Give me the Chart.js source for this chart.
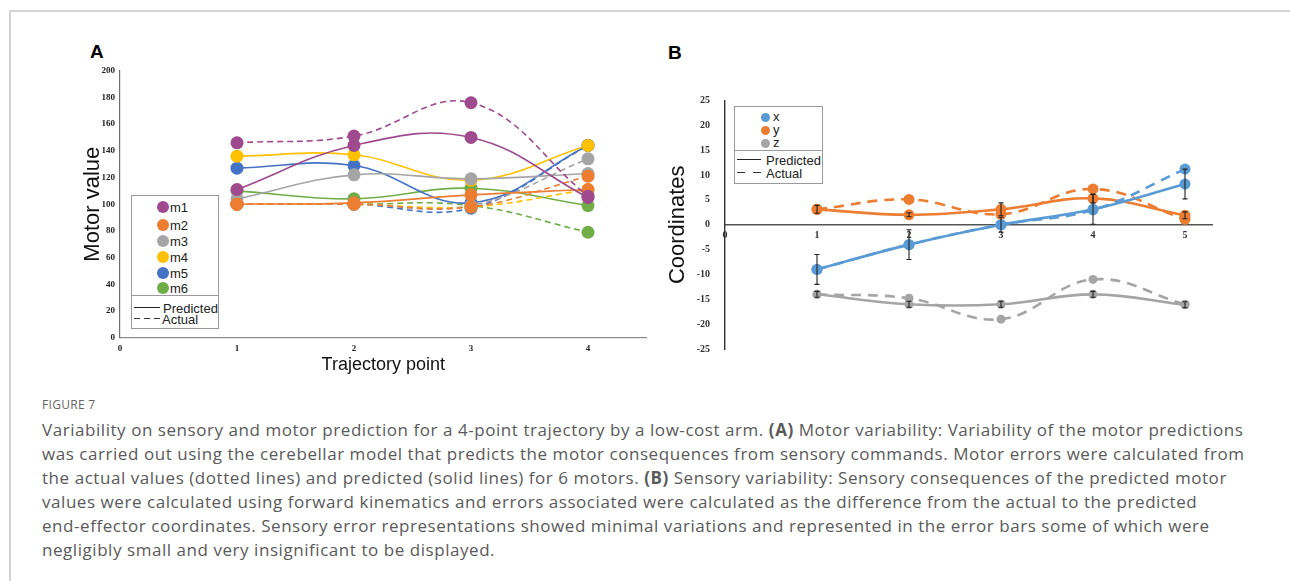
<!DOCTYPE html>
<html>
<head>
<meta charset="utf-8">
<script src="https://cdn.jsdelivr.net/npm/chart.js@4.4.1/dist/chart.umd.min.js"></script>
<style>
  html,body{margin:0;padding:0;background:#fff;}
  body{width:1290px;height:581px;position:relative;overflow:hidden;font-family:"Liberation Sans",Arial,sans-serif;}
  .frame{position:absolute;left:9px;top:10px;width:1290px;height:600px;border-top:2px solid #d4d4d4;border-left:2px solid #d4d4d4;}
  .plabel{position:absolute;font:bold 19px "Liberation Sans",Arial,sans-serif;color:#000;}
  canvas{position:absolute;}
  .leg{position:absolute;background:#fff;border:1px solid #9a9a9a;box-sizing:border-box;}
  .leg .dot{position:absolute;border-radius:50%;}
  .leg .txt{position:absolute;font:13px "Liberation Sans",Arial,sans-serif;color:#222;line-height:1;transform:translateY(-50%);white-space:nowrap;}
  .leg .sep{position:absolute;left:0;right:0;border-top:1px solid #9a9a9a;}
  .leg .ln{position:absolute;height:1.5px;}
  .cap{position:absolute;left:42px;font-family:"Open Sans","Noto Sans",sans-serif;color:#5a5a5a;white-space:nowrap;}
  .figt{top:396px;font-size:12px;letter-spacing:0.3px;color:#666;}
  .capline{font-size:17px;line-height:24px;letter-spacing:0.55px;}
</style>
</head>
<body>
<div class="frame"></div>
<div class="plabel" style="left:90px;top:41px;">A</div>
<div class="plabel" style="left:668px;top:42px;">B</div>
<canvas id="cA" width="580" height="340" style="left:80px;top:40px;width:580px;height:340px;"></canvas>
<canvas id="cB" width="565" height="310" style="left:665px;top:60px;width:565px;height:310px;"></canvas>
<div id="legA" class="leg" style="left:131px;top:195px;width:88px;height:134px;"></div>
<div id="legB" class="leg" style="left:734px;top:106px;width:89px;height:78px;"></div>
<div class="cap figt">FIGURE 7</div>
<div class="cap capline" style="top:418px;">
Variability on sensory and motor prediction for a 4-point trajectory by a low-cost arm. <b>(A)</b> Motor variability: Variability of the motor predictions<br>
was carried out using the cerebellar model that predicts the motor consequences from sensory commands. Motor errors were calculated from<br>
the actual values (dotted lines) and predicted (solid lines) for 6 motors. <b>(B)</b> Sensory variability: Sensory consequences of the predicted motor<br>
values were calculated using forward kinematics and errors associated were calculated as the difference from the actual to the predicted<br>
end-effector coordinates. Sensory error representations showed minimal variations and represented in the error bars some of which were<br>
negligibly small and very insignificant to be displayed.
</div>
<script>
// ---------- Panel A data ----------
const trajA = [1, 2, 3, 4];
const motorNames = ['m1', 'm2', 'm3', 'm4', 'm5', 'm6'];
const motorColors = ['#9F4A8E', '#ED7D31', '#A5A5A5', '#FFC000', '#4472C4', '#70AD47'];
const m1Pred = [111, 144, 150, 105];
const m1Act  = [146, 151, 176, 106];
const m2Pred = [100, 101, 107, 111];
const m2Act  = [100, 100, 98, 121];
const m3Pred = [104, 122, 119, 123];
const m3Act  = [100, 100, 99, 134];
const m4Pred = [136, 137, 118, 144];
const m4Act  = [100, 100, 98, 111];
const m5Pred = [127, 129, 101, 144];
const m5Act  = [100, 100, 97, 144];
const m6Pred = [110, 104, 112, 99];
const m6Act  = [100, 100, 99, 79];
const yTicksA = [0, 20, 40, 60, 80, 100, 120, 140, 160, 180, 200];
const xTicksA = [0, 1, 2, 3, 4];

// ---------- Panel B data ----------
const trajB = [1, 2, 3, 4, 5];
const coordNames = ['x', 'y', 'z'];
const coordColors = ['#5B9BD5', '#ED7D31', '#A5A5A5'];
const xPred = [-9.0, -4.0, 0.0, 3.1, 8.2];
const xAct  = [-9.0, -4.0, 0.0, 3.0, 11.2];
const xErr  = [3.0, 3.0, 1.5, 3.0, 3.0];
const yPred = [3.1, 2.0, 3.1, 5.3, 1.9];
const yAct  = [3.1, 5.1, 2.1, 7.2, 1.1];
const yErr  = [0.8, 0.4, 1.3, 0.9, 0.7];
const zPred = [-14.0, -16.0, -16.0, -14.0, -16.1];
const zAct  = [-14.0, -14.8, -19.0, -11.0, -16.0];
const zErr  = [0.6, 0.6, 0.6, 0.6, 0.6];
const yTicksB = [-25, -20, -15, -10, -5, 0, 5, 10, 15, 20, 25];
const xTicksB = [0, 1, 2, 3, 4, 5];

const pts = (xs, ys) => xs.map((x, i) => ({x: x, y: ys[i]}));
const tickFontA = {family: '"Liberation Serif", "Times New Roman", serif', size: 9, weight: 'bold'};
const tickFontB = {family: '"Liberation Serif", "Times New Roman", serif', size: 10, weight: 'bold'};

// ---------- Chart A ----------
const predA = [m1Pred, m2Pred, m3Pred, m4Pred, m5Pred, m6Pred];
const actA  = [m1Act, m2Act, m3Act, m4Act, m5Act, m6Act];
const dsA = [];
motorNames.forEach((n, i) => {
  dsA.push({label: n + ' predicted', data: pts(trajA, predA[i]), borderColor: motorColors[i], backgroundColor: motorColors[i],
    borderWidth: 1.6, pointRadius: 6.5, pointBorderWidth: 0, tension: 0.4, fill: false});
  dsA.push({label: n + ' actual', data: pts(trajA, actA[i]), borderColor: motorColors[i], backgroundColor: motorColors[i],
    borderWidth: 1.6, borderDash: [6, 4], pointRadius: 6.5, pointBorderWidth: 0, tension: 0.4, fill: false});
});

new Chart(document.getElementById('cA'), {
  type: 'line',
  data: {datasets: dsA},
  options: {
    responsive: false, animation: false, devicePixelRatio: 1,
    layout: {padding: {top: 30.7, right: 13.5, bottom: 0, left: 0}},
    plugins: {legend: {display: false}, tooltip: {enabled: false}},
    scales: {
      x: {type: 'linear', min: 0, max: 4.5,
        afterBuildTicks: s => { s.ticks = xTicksA.map(v => ({value: v})); },
        afterFit: s => { s.height = 42.3; },
        grid: {display: false, drawTicks: false},
        border: {display: true, color: '#8c8c8c', width: 1.2},
        ticks: {font: tickFontA, color: '#222', padding: 6, maxRotation: 0},
        title: {display: true, text: 'Trajectory point', color: '#111', padding: {top: 0, bottom: 4},
          font: {family: '"Liberation Sans", Arial, sans-serif', size: 18}}
      },
      y: {type: 'linear', min: 0, max: 200,
        afterBuildTicks: s => { s.ticks = yTicksA.map(v => ({value: v})); },
        afterFit: s => { s.width = 40; },
        grid: {display: false, drawTicks: false},
        border: {display: true, color: '#6e6e6e', width: 1.2},
        ticks: {font: tickFontA, color: '#222', padding: 5},
        title: {display: true, text: 'Motor value', color: '#111', padding: 0,
          font: {family: '"Liberation Sans", Arial, sans-serif', size: 22}}
      }
    }
  }
});

// ---------- Error bar plugin ----------
const errorBars = {
  id: 'errorBars',
  afterDatasetsDraw(chart) {
    const ctx = chart.ctx, ys = chart.scales.y;
    chart.data.datasets.forEach((ds, i) => {
      if (!ds.errors) return;
      const meta = chart.getDatasetMeta(i);
      ctx.save();
      ctx.strokeStyle = '#222'; ctx.lineWidth = 1.1;
      meta.data.forEach((el, j) => {
        const v = ds.data[j].y, e = ds.errors[j];
        const t = ys.getPixelForValue(v + e), b = ys.getPixelForValue(v - e);
        ctx.beginPath();
        ctx.moveTo(el.x, t); ctx.lineTo(el.x, b);
        ctx.moveTo(el.x - 2.5, t); ctx.lineTo(el.x + 2.5, t);
        ctx.moveTo(el.x - 2.5, b); ctx.lineTo(el.x + 2.5, b);
        ctx.stroke();
      });
      ctx.restore();
    });
  }
};

// ---------- Chart B ----------
const predB = [xPred, yPred, zPred];
const actB  = [xAct, yAct, zAct];
const errB  = [xErr, yErr, zErr];
const radB  = [5.5, 5.5, 4.5];
const dsB = [];
coordNames.forEach((n, i) => {
  dsB.push({label: n + ' predicted', data: pts(trajB, predB[i]), errors: errB[i], borderColor: coordColors[i], backgroundColor: coordColors[i],
    borderWidth: 2.6, pointRadius: radB[i], pointBorderWidth: 0, tension: 0.4, fill: false});
  dsB.push({label: n + ' actual', data: pts(trajB, actB[i]), borderColor: coordColors[i], backgroundColor: coordColors[i],
    borderWidth: 2.6, borderDash: [10, 7], pointRadius: radB[i], pointBorderWidth: 0, tension: 0.4, fill: false});
});

new Chart(document.getElementById('cB'), {
  type: 'line',
  data: {datasets: dsB},
  plugins: [errorBars],
  options: {
    responsive: false, animation: false, devicePixelRatio: 1,
    layout: {padding: {top: 40.5, right: 17.4, bottom: 19.5, left: 0}},
    plugins: {legend: {display: false}, tooltip: {enabled: false}},
    scales: {
      x: {type: 'linear', min: 0, max: 5.3, position: {y: 0},
        afterBuildTicks: s => { s.ticks = xTicksB.map(v => ({value: v})); },
        afterFit: s => { s.height = 0; },
        grid: {display: false, drawTicks: false},
        border: {display: true, color: '#555', width: 1.4},
        ticks: {font: tickFontB, color: '#333', padding: 5, maxRotation: 0}
      },
      y: {type: 'linear', min: -25, max: 25,
        afterBuildTicks: s => { s.ticks = yTicksB.map(v => ({value: v})); },
        afterFit: s => { s.width = 60; },
        grid: {display: false, drawTicks: false},
        border: {display: true, color: '#333', width: 1.4},
        ticks: {font: tickFontB, color: '#333', padding: 15},
        title: {display: true, text: 'Coordinates', color: '#111', padding: 0,
          font: {family: '"Liberation Sans", Arial, sans-serif', size: 22}}
      }
    }
  }
});

// ---------- Legends (HTML) ----------
function addEl(parent, cls, style, text) {
  const d = document.createElement('div');
  d.className = cls;
  Object.assign(d.style, style);
  if (text) d.textContent = text;
  parent.appendChild(d);
  return d;
}
const dashBg = (on, off) => 'repeating-linear-gradient(to right, #333 0, #333 ' + on + 'px, transparent ' + on + 'px, transparent ' + (on + off) + 'px)';
const legA = document.getElementById('legA');
const legAy = [11, 28.5, 45, 61, 76.5, 92];
motorNames.forEach((n, i) => {
  addEl(legA, 'dot', {left: '25px', top: (legAy[i] - 6) + 'px', width: '12px', height: '12px', background: motorColors[i]});
  addEl(legA, 'txt', {left: '38px', top: legAy[i] + 'px'}, n);
});
addEl(legA, 'sep', {top: '99px'});
addEl(legA, 'ln', {left: '2px', width: '26px', top: '110.5px', background: '#222'});
addEl(legA, 'txt', {left: '31px', top: '112px'}, 'Predicted');
addEl(legA, 'ln', {left: '2px', width: '26px', top: '121.5px', background: dashBg(6, 4)});
addEl(legA, 'txt', {left: '30px', top: '123px'}, 'Actual');

const legB = document.getElementById('legB');
const legBy = [10, 23, 36];
coordNames.forEach((n, i) => {
  addEl(legB, 'dot', {left: '26px', top: (legBy[i] - 4.5) + 'px', width: '9px', height: '9px', background: coordColors[i]});
  addEl(legB, 'txt', {left: '38px', top: (legBy[i] - 1) + 'px'}, n);
});
addEl(legB, 'sep', {top: '43px'});
addEl(legB, 'ln', {left: '2px', width: '24px', top: '51.5px', background: '#222'});
addEl(legB, 'txt', {left: '31px', top: '53px'}, 'Predicted');
addEl(legB, 'ln', {left: '2px', width: '24px', top: '64.5px', background: dashBg(8, 8)});
addEl(legB, 'txt', {left: '31px', top: '66px'}, 'Actual');
</script>
</body>
</html>
